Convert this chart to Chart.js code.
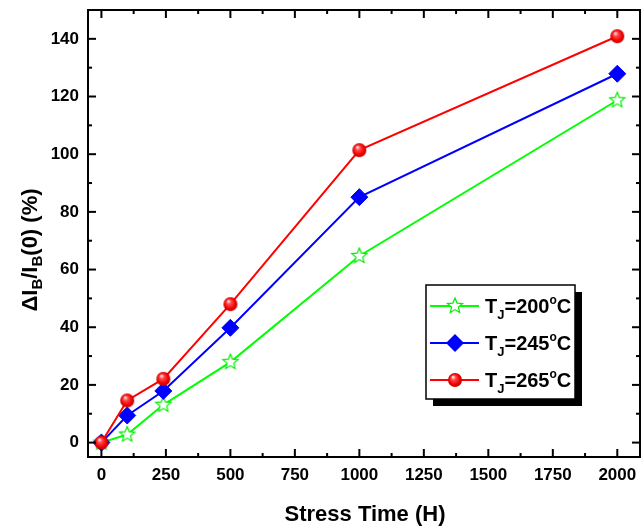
<!DOCTYPE html>
<html>
<head>
<meta charset="utf-8">
<title>Stress time</title>
<script src="https://cdn.jsdelivr.net/npm/chart.js@4.4.1/dist/chart.umd.min.js"></script>
<style>
    html, body { margin: 0; padding: 0; background: #fff; }
    #wrap { width: 643px; height: 531px; }
</style>
</head>
<body>
<div id="wrap"><canvas id="chart" width="643" height="531"></canvas></div>
<script>
// valores
const stressHours = [0, 100, 240, 500, 1000, 2000];
const rise200 = [0, 2.8, 13.1, 27.9, 64.7, 118.7];
const rise245 = [0, 9.4, 17.9, 39.8, 85.1, 127.9];
const rise265 = [0, 14.6, 22.1, 48.0, 101.4, 140.9];
const xTicks = [0, 250, 500, 750, 1000, 1250, 1500, 1750, 2000];
const yTicks = [0, 20, 40, 60, 80, 100, 120, 140];
const legendTemps = ['200', '245', '265'];

const FONT = '"Liberation Sans", Arial, sans-serif';

function makeSphere(r) {
    const c = document.createElement('canvas');
    c.width = c.height = 2 * r + 2;
    const g = c.getContext('2d');
    const m = r + 1;
    const grad = g.createRadialGradient(m - r * 0.3, m - r * 0.45, r * 0.05, m, m, r);
    grad.addColorStop(0, '#fff0f0');
    grad.addColorStop(0.3, '#ff4848');
    grad.addColorStop(0.75, '#f00000');
    grad.addColorStop(1, '#c00000');
    g.fillStyle = grad;
    g.beginPath();
    g.arc(m, m, r, 0, Math.PI * 2);
    g.fill();
    return c;
}

function makeStar(R) {
    const c = document.createElement('canvas');
    c.width = c.height = 2 * R + 4;
    const g = c.getContext('2d');
    const m = R + 2;
    const inner = R * 0.45;
    g.beginPath();
    for (let i = 0; i < 10; i++) {
        const rad = -Math.PI / 2 + i * Math.PI / 5;
        const rr = i % 2 === 0 ? R : inner;
        const px = m + Math.cos(rad) * rr, py = m + Math.sin(rad) * rr;
        if (i === 0) g.moveTo(px, py); else g.lineTo(px, py);
    }
    g.closePath();
    g.fillStyle = '#fff';
    g.fill();
    g.strokeStyle = '#00ee00';
    g.lineWidth = 1.2;
    g.stroke();
    return c;
}

const sphereImg = makeSphere(7);
const starImg = makeStar(8);

function points(vals) {
    return stressHours.map((h, i) => ({ x: h, y: vals[i] }));
}

function drawRich(ctx, parts, x, y, align) {
    let w = 0;
    parts.forEach(p => {
        ctx.font = 'bold ' + p[1] + 'px ' + FONT;
        w += ctx.measureText(p[0]).width;
    });
    let cx = align === 'center' ? x - w / 2 : x;
    ctx.textAlign = 'left';
    ctx.textBaseline = 'alphabetic';
    ctx.fillStyle = '#000';
    parts.forEach(p => {
        ctx.font = 'bold ' + p[1] + 'px ' + FONT;
        ctx.fillText(p[0], cx, y + p[2]);
        cx += ctx.measureText(p[0]).width;
    });
}

function line(ctx, x1, y1, x2, y2) {
    ctx.beginPath();
    ctx.moveTo(x1, y1);
    ctx.lineTo(x2, y2);
    ctx.stroke();
}

const framePlugin = {
    id: 'frame',
    afterDraw(chart) {
        const ctx = chart.ctx;
        const a = chart.chartArea;
        const xs = chart.scales.x, ys = chart.scales.y;
        ctx.save();
        ctx.strokeStyle = '#000';
        ctx.lineWidth = 2;

        // ticks hacia dentro en los cuatro lados
        const xMinor = xTicks.slice(1).map((v, i) => (v + xTicks[i]) / 2);
        const yMinor = yTicks.slice(1).map((v, i) => (v + yTicks[i]) / 2);
        xTicks.forEach(v => {
            const px = xs.getPixelForValue(v);
            line(ctx, px, a.bottom, px, a.bottom - 8);
            line(ctx, px, a.top, px, a.top + 8);
        });
        xMinor.forEach(v => {
            const px = xs.getPixelForValue(v);
            line(ctx, px, a.bottom, px, a.bottom - 4);
            line(ctx, px, a.top, px, a.top + 4);
        });
        yTicks.forEach(v => {
            const py = ys.getPixelForValue(v);
            line(ctx, a.left, py, a.left + 8, py);
            line(ctx, a.right, py, a.right - 8, py);
        });
        yMinor.forEach(v => {
            const py = ys.getPixelForValue(v);
            line(ctx, a.left, py, a.left + 4, py);
            line(ctx, a.right, py, a.right - 4, py);
        });
        ctx.strokeRect(a.left, a.top, a.right - a.left, a.bottom - a.top);

        // titulos de ejes
        drawRich(ctx, [['Stress Time (H)', 22, 0]], 365, 521, 'center');
        ctx.save();
        ctx.translate(29, 250);
        ctx.rotate(-Math.PI / 2);
        drawRich(ctx, [['\u0394I', 22, 0], ['B', 15, 5], ['/I', 22, 0], ['B', 15, 5], ['(0) (%)', 22, 0]], 0, 8, 'center');
        ctx.restore();

        // leyenda con sombra
        const bx = 426, by = 285, bw = 149, bh = 114;
        ctx.fillStyle = '#000';
        ctx.fillRect(bx + 7, by + 7, bw, bh);
        ctx.fillStyle = '#fff';
        ctx.fillRect(bx, by, bw, bh);
        ctx.lineWidth = 1.5;
        ctx.strokeRect(bx, by, bw, bh);

        const rows = [
            { color: '#00ff00', mark: 'star' },
            { color: '#0000ff', mark: 'diamond' },
            { color: '#ff0000', mark: 'sphere' }
        ];
        rows.forEach((r, i) => {
            const cy = 306 + i * 37;
            ctx.strokeStyle = r.color;
            ctx.lineWidth = 2;
            line(ctx, 430, cy, 479, cy);
            if (r.mark === 'star') {
                ctx.drawImage(starImg, 455 - starImg.width / 2, cy - starImg.height / 2);
            } else if (r.mark === 'sphere') {
                ctx.drawImage(sphereImg, 455 - sphereImg.width / 2, cy - sphereImg.height / 2);
            } else {
                ctx.fillStyle = r.color;
                ctx.beginPath();
                ctx.moveTo(455 - 9, cy);
                ctx.lineTo(455, cy - 9);
                ctx.lineTo(455 + 9, cy);
                ctx.lineTo(455, cy + 9);
                ctx.closePath();
                ctx.fill();
            }
            drawRich(ctx, [['T', 20, 0], ['J', 13, 6], ['=' + legendTemps[i], 20, 0], ['o', 12, -9], ['C', 20, 0]], 485, cy + 7, 'left');
        });
        ctx.restore();
    }
};

const tickFont = { family: FONT, size: 17, weight: 'bold' };

new Chart(document.getElementById('chart'), {
    type: 'scatter',
    data: {
        datasets: [{
            label: 'TJ=265°C',
            data: points(rise265),
            showLine: true,
            borderColor: '#ff0000',
            borderWidth: 2,
            pointStyle: sphereImg,
            pointRadius: 7,
            clip: false
        }, {
            label: 'TJ=245°C',
            data: points(rise245),
            showLine: true,
            borderColor: '#0000ff',
            borderWidth: 2,
            pointStyle: 'rectRot',
            pointRadius: 8.5,
            pointBackgroundColor: '#0000ff',
            pointBorderColor: '#0000ff',
            pointBorderWidth: 1,
            clip: false
        }, {
            label: 'TJ=200°C',
            data: points(rise200),
            showLine: true,
            borderColor: '#00ff00',
            borderWidth: 2,
            pointStyle: starImg,
            pointRadius: 8,
            clip: false
        }]
    },
    options: {
        responsive: false,
        animation: false,
        layout: { autoPadding: false, padding: { top: 10, right: 3, left: 0, bottom: 0 } },
        plugins: {
            legend: { display: false },
            tooltip: { enabled: false }
        },
        scales: {
            x: {
                type: 'linear',
                min: -52,
                max: 2088,
                afterBuildTicks: s => { s.ticks = xTicks.map(v => ({ value: v })); },
                afterFit: s => { s.height = 74; s.paddingLeft = 0; s.paddingRight = 0; },
                grid: { display: false, drawTicks: false },
                border: { display: false },
                ticks: { color: '#000', font: tickFont, padding: 8, maxRotation: 0, autoSkip: false, callback: v => String(v) }
            },
            y: {
                type: 'linear',
                min: -5,
                max: 150,
                afterBuildTicks: s => { s.ticks = yTicks.map(v => ({ value: v })); },
                afterFit: s => { s.width = 88; s.paddingTop = 0; s.paddingBottom = 0; },
                grid: { display: false, drawTicks: false },
                border: { display: false },
                ticks: { color: '#000', font: tickFont, padding: 9, callback: v => String(v) }
            }
        }
    },
    plugins: [framePlugin]
});
</script>
</body>
</html>
